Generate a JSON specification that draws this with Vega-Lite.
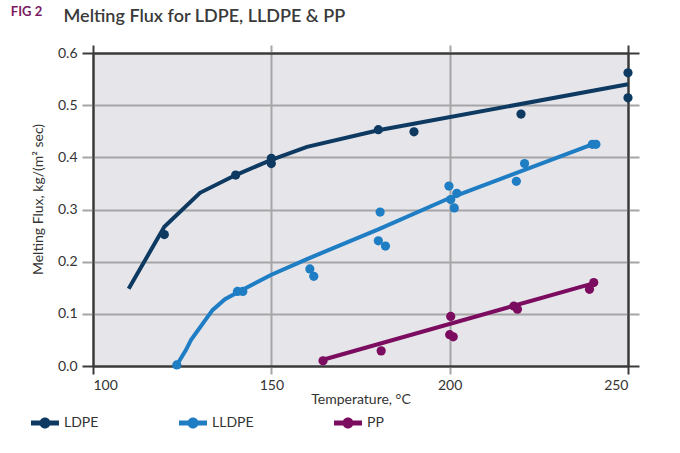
{
  "$schema": "https://vega.github.io/schema/vega-lite/v6.json",
  "width": 535,
  "height": 313,
  "autosize": {"type": "none"},
  "padding": {"left": 93, "top": 53, "right": 52, "bottom": 87},
  "background": "white",
  "config": {"view": {"fill": "#e6e6ea", "stroke": null}, "font": "Lato"},
  "datasets": {
    "lines": [
      {"polymer": "LDPE", "temperature": 110, "flux": 0.148},
      {"polymer": "LDPE", "temperature": 120, "flux": 0.267},
      {"polymer": "LDPE", "temperature": 130, "flux": 0.332},
      {"polymer": "LDPE", "temperature": 140, "flux": 0.366},
      {"polymer": "LDPE", "temperature": 150, "flux": 0.395},
      {"polymer": "LDPE", "temperature": 160, "flux": 0.42},
      {"polymer": "LDPE", "temperature": 180, "flux": 0.452},
      {"polymer": "LDPE", "temperature": 250, "flux": 0.54},
      {"polymer": "LLDPE", "temperature": 123.5, "flux": 0.002},
      {"polymer": "LLDPE", "temperature": 126, "flux": 0.03},
      {"polymer": "LLDPE", "temperature": 127.5, "flux": 0.05},
      {"polymer": "LLDPE", "temperature": 133.5, "flux": 0.107},
      {"polymer": "LLDPE", "temperature": 137, "flux": 0.128},
      {"polymer": "LLDPE", "temperature": 141, "flux": 0.143},
      {"polymer": "LLDPE", "temperature": 150, "flux": 0.175},
      {"polymer": "LLDPE", "temperature": 160, "flux": 0.205},
      {"polymer": "LLDPE", "temperature": 166, "flux": 0.222},
      {"polymer": "LLDPE", "temperature": 180, "flux": 0.262},
      {"polymer": "LLDPE", "temperature": 200, "flux": 0.322},
      {"polymer": "LLDPE", "temperature": 240, "flux": 0.425},
      {"polymer": "PP", "temperature": 164.5, "flux": 0.012},
      {"polymer": "PP", "temperature": 240, "flux": 0.158}
    ],
    "points": [
      {"polymer": "LDPE", "temperature": 120, "flux": 0.252},
      {"polymer": "LDPE", "temperature": 140, "flux": 0.366},
      {"polymer": "LDPE", "temperature": 150, "flux": 0.398},
      {"polymer": "LDPE", "temperature": 150, "flux": 0.388},
      {"polymer": "LDPE", "temperature": 180, "flux": 0.453},
      {"polymer": "LDPE", "temperature": 190, "flux": 0.449},
      {"polymer": "LDPE", "temperature": 220, "flux": 0.483},
      {"polymer": "LDPE", "temperature": 250, "flux": 0.562},
      {"polymer": "LDPE", "temperature": 250, "flux": 0.514},
      {"polymer": "LLDPE", "temperature": 123.5, "flux": 0.002},
      {"polymer": "LLDPE", "temperature": 140.5, "flux": 0.143},
      {"polymer": "LLDPE", "temperature": 142, "flux": 0.143},
      {"polymer": "LLDPE", "temperature": 160.8, "flux": 0.186},
      {"polymer": "LLDPE", "temperature": 161.9, "flux": 0.172},
      {"polymer": "LLDPE", "temperature": 180.5, "flux": 0.295},
      {"polymer": "LLDPE", "temperature": 180, "flux": 0.24},
      {"polymer": "LLDPE", "temperature": 182, "flux": 0.23},
      {"polymer": "LLDPE", "temperature": 199.8, "flux": 0.345},
      {"polymer": "LLDPE", "temperature": 202, "flux": 0.331},
      {"polymer": "LLDPE", "temperature": 200.3, "flux": 0.319},
      {"polymer": "LLDPE", "temperature": 201.3, "flux": 0.303},
      {"polymer": "LLDPE", "temperature": 218.7, "flux": 0.354},
      {"polymer": "LLDPE", "temperature": 221, "flux": 0.388},
      {"polymer": "LLDPE", "temperature": 240, "flux": 0.425},
      {"polymer": "LLDPE", "temperature": 241, "flux": 0.425},
      {"polymer": "PP", "temperature": 164.5, "flux": 0.01},
      {"polymer": "PP", "temperature": 180.8, "flux": 0.029},
      {"polymer": "PP", "temperature": 200.3, "flux": 0.095},
      {"polymer": "PP", "temperature": 200, "flux": 0.06},
      {"polymer": "PP", "temperature": 201, "flux": 0.056},
      {"polymer": "PP", "temperature": 218, "flux": 0.115},
      {"polymer": "PP", "temperature": 219, "flux": 0.109},
      {"polymer": "PP", "temperature": 240.4, "flux": 0.16},
      {"polymer": "PP", "temperature": 239.2, "flux": 0.147}
    ]
  },
  "layer": [
    {
      "data": {"name": "lines"},
      "mark": {"type": "line", "strokeWidth": 4},
      "encoding": {
        "x": {
          "field": "temperature",
          "type": "quantitative",
          "scale": {"domain": [100, 250], "nice": false, "zero": false},
          "axis": {
            "orient": "bottom",
            "values": [100, 150, 200, 250],
            "domainColor": "#3a3a3a",
            "domainWidth": 2,
            "grid": true,
            "gridColor": {"condition": {"test": "datum.value === 100 || datum.value === 250", "value": "#3a3a3a"}, "value": "#a5a5a8"},
            "gridWidth": 2,
            "gridOpacity": 1,
            "tickSize": 8,
            "tickWidth": 2,
            "tickColor": {"condition": {"test": "datum.value === 100 || datum.value === 250", "value": "#3a3a3a"}, "value": "#a5a5a8"},
            "labelFontSize": 14,
            "labelColor": "#333333",
            "labelPadding": 4,
            "labelFont": "Lato",
            "title": "Temperature, °C",
            "titleFont": "Lato",
            "titleFontSize": 14,
            "titleFontWeight": "normal",
            "titleColor": "#333333",
            "titleY": 33,
            "titleBaseline": "middle"
          }
        },
        "y": {
          "field": "flux",
          "type": "quantitative",
          "scale": {"domain": [0, 0.6], "nice": false, "zero": false},
          "axis": {
            "orient": "left",
            "values": [0, 0.1, 0.2, 0.3, 0.4, 0.5, 0.6],
            "format": ".1f",
            "domainColor": "#3a3a3a",
            "domainWidth": 2,
            "grid": true,
            "gridColor": {"condition": {"test": "datum.value === 0 || datum.value === 0.6", "value": "#3a3a3a"}, "value": "#a5a5a8"},
            "gridWidth": 2,
            "gridOpacity": 1,
            "tickSize": 11,
            "tickWidth": 2,
            "tickColor": {"condition": {"test": "datum.value === 0 || datum.value === 0.6", "value": "#3a3a3a"}, "value": "#a5a5a8"},
            "labelFontSize": 14,
            "labelColor": "#333333",
            "labelPadding": 5,
            "labelFont": "Lato",
            "title": "Melting Flux, kg/(m² sec)",
            "titleFont": "Lato",
            "titleFontSize": 14,
            "titleFontWeight": "normal",
            "titleColor": "#333333",
            "titleX": -55,
            "titleY": 146,
            "titleAngle": -90,
            "titleAlign": "center",
            "titleBaseline": "middle"
          }
        },
        "color": {
          "field": "polymer",
          "type": "nominal",
          "scale": {"domain": ["LDPE", "LLDPE", "PP"], "range": ["#0e3a62", "#1f7dc4", "#7b0c5f"]},
          "legend": {
            "orient": "none",
            "legendX": -58,
            "legendY": 360,
            "direction": "horizontal",
            "title": null,
            "symbolType": "M-1.4,-0.25H1.4V0.25H-1.4Z M0.55,0A0.55,0.55,0,1,1,-0.55,0A0.55,0.55,0,1,1,0.55,0Z",
            "symbolSize": 400,
            "symbolStrokeWidth": 0,
            "symbolOpacity": 1,
            "labelFont": "Lato",
            "labelFontSize": 14,
            "labelColor": "#333333",
            "labelOffset": 9,
            "columnPadding": 80,
            "encode": {"symbols": {"update": {"fill": {"scale": "color", "field": "value"}, "stroke": {"value": "transparent"}}}}
          }
        }
      }
    },
    {
      "data": {"name": "points"},
      "mark": {"type": "circle", "size": 85, "opacity": 1},
      "encoding": {
        "x": {
          "field": "temperature",
          "type": "quantitative",
          "axis": {
            "orient": "top",
            "values": [100, 150, 200, 250],
            "labels": false,
            "grid": false,
            "domainColor": "#3a3a3a",
            "domainWidth": 2,
            "tickSize": 8,
            "tickWidth": 2,
            "tickColor": {"condition": {"test": "datum.value === 100 || datum.value === 250", "value": "#3a3a3a"}, "value": "#a5a5a8"},
            "title": "Melting Flux for LDPE, LLDPE & PP",
            "titleX": -30,
            "titleY": -32,
            "titleAlign": "left",
            "titleBaseline": "alphabetic",
            "titleFont": "Lato",
            "titleFontSize": 18,
            "titleFontWeight": 600,
            "titleColor": "#3a3a3a"
          }
        },
        "y": {
          "field": "flux",
          "type": "quantitative",
          "axis": {
            "orient": "right",
            "values": [0, 0.1, 0.2, 0.3, 0.4, 0.5, 0.6],
            "labels": false,
            "grid": false,
            "domainColor": "#3a3a3a",
            "domainWidth": 2,
            "tickSize": 11,
            "tickWidth": 2,
            "tickColor": {"condition": {"test": "datum.value === 0 || datum.value === 0.6", "value": "#3a3a3a"}, "value": "#a5a5a8"},
            "title": "FIG 2",
            "titleAngle": 0,
            "titleX": -602,
            "titleY": -42,
            "titleAlign": "center",
            "titleBaseline": "middle",
            "titleFont": "Lato",
            "titleFontSize": 13,
            "titleFontWeight": "bold",
            "titleColor": "#7b1a62"
          }
        },
        "color": {
          "field": "polymer",
          "type": "nominal",
          "legend": {
            "orient": "none",
            "legendX": -58,
            "legendY": 360,
            "direction": "horizontal",
            "title": null,
            "symbolType": "M-1.4,-0.25H1.4V0.25H-1.4Z M0.55,0A0.55,0.55,0,1,1,-0.55,0A0.55,0.55,0,1,1,0.55,0Z",
            "symbolSize": 400,
            "symbolStrokeWidth": 0,
            "symbolOpacity": 1,
            "labelFont": "Lato",
            "labelFontSize": 14,
            "labelColor": "#333333",
            "labelOffset": 9,
            "columnPadding": 80,
            "encode": {"symbols": {"update": {"fill": {"scale": "color", "field": "value"}, "stroke": {"value": "transparent"}}}}
          }
        }
      }
    }
  ],
  "resolve": {"axis": {"x": "independent", "y": "independent"}}
}
